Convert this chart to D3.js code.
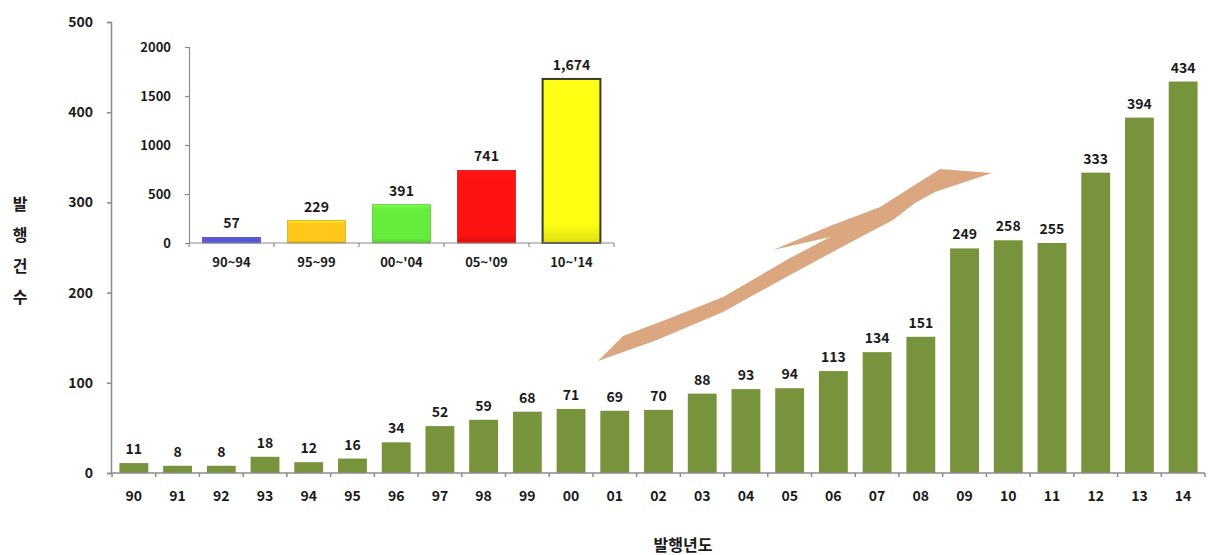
<!DOCTYPE html>
<html>
<head>
<meta charset="utf-8">
<script src="https://cdn.jsdelivr.net/npm/d3@7"></script>
<style>
  html, body { margin: 0; padding: 0; background: #fff; }
  svg { display: block; }
  text { font-family: "Noto Sans CJK KR", "Noto Sans", sans-serif; font-weight: bold; fill: #1a1a1a; }
</style>
</head>
<body>
<svg id="chart" width="1208" height="555"></svg>
<script>
// Yearly publication counts
const years = ["90","91","92","93","94","95","96","97","98","99","00","01","02","03","04","05","06","07","08","09","10","11","12","13","14"];
const yearCounts = [11,8,8,18,12,16,34,52,59,68,71,69,70,88,93,94,113,134,151,249,258,255,333,394,434];
const yearTicks = [0,100,200,300,400,500];

// Five-year totals (inset)
const periods = ["90~94","95~99","00~'04","05~'09","10~'14"];
const periodCounts = [57,229,391,741,1674];
const periodLabels = ["57","229","391","741","1,674"];
const periodColors = ["#5858d8","#ffc81a","#66ec3c","#ff1212","#ffff14"];
const periodTicks = [0,500,1000,1500,2000];

// Trend arrow outline, in chart coordinates
const arrowShape = [
  [598,361],[623,336],[673,317],[723,297],[790,258],[830,237],[773,250],[830,226],
  [880,207],[940,169],[992,173],[935,192],[915,203],[893,220],[855,240],[790,275],
  [723,312],[657,340]
];

const svg = d3.select("#chart");
const axisColor = "#8c8c8c";

// ---------- main chart ----------
const x = d3.scaleBand().domain(years).range([112, 1205]).paddingInner(0.34).paddingOuter(0.17);
const y = d3.scaleLinear().domain([0, 500]).range([473, 22]);

const main = svg.append("g");

// trend arrow behind the bars
svg.append("path")
  .attr("d", d3.line()(arrowShape) + "Z")
  .attr("fill", "#dba781");

main.selectAll("rect.bar").data(years).join("rect")
  .attr("class", "bar")
  .attr("x", d => x(d))
  .attr("width", x.bandwidth())
  .attr("y", (d, i) => y(yearCounts[i]))
  .attr("height", (d, i) => y(0) - y(yearCounts[i]))
  .attr("fill", "#77933c");

main.selectAll("text.val").data(years).join("text")
  .attr("class", "val")
  .attr("x", d => x(d) + x.bandwidth() / 2)
  .attr("y", (d, i) => y(yearCounts[i]) - 9)
  .attr("text-anchor", "middle")
  .attr("font-size", 14)
  .text((d, i) => yearCounts[i]);

// y axis
const yAxis = main.append("g").attr("transform", "translate(111,0)")
  .call(d3.axisLeft(y).tickValues(yearTicks).tickFormat(d3.format("d")).tickSize(4).tickPadding(14));
yAxis.selectAll("text").attr("font-size", 14);

// x axis with ticks between categories
const xAxisG = main.append("g").attr("transform", "translate(0,473)");
xAxisG.append("line").attr("x1", 111).attr("x2", 1205).attr("y1", 0).attr("y2", 0);
const step = x.step();
xAxisG.selectAll("line.tk").data(d3.range(years.length + 1)).join("line")
  .attr("class", "tk")
  .attr("x1", i => 112 + i * step).attr("x2", i => 112 + i * step)
  .attr("y1", 0).attr("y2", 4);
xAxisG.selectAll("text").data(years).join("text")
  .attr("x", d => x(d) + x.bandwidth() / 2)
  .attr("y", 28)
  .attr("text-anchor", "middle")
  .attr("font-size", 14)
  .text(d => d);

[yAxis, xAxisG].forEach(g => {
  g.selectAll("line, path.domain").attr("stroke", axisColor).attr("stroke-width", 1.5);
});

// axis titles
svg.append("text").attr("x", 683).attr("y", 551).attr("text-anchor", "middle")
  .attr("font-size", 16).text("발행년도");
const yTitle = "발행건수".split("");
svg.selectAll("text.ytitle").data(yTitle).join("text")
  .attr("class", "ytitle")
  .attr("x", 20).attr("y", (d, i) => 210 + i * 31)
  .attr("text-anchor", "middle").attr("font-size", 16)
  .text(d => d);

// ---------- inset chart ----------
const xi = d3.scaleBand().domain(periods).range([189, 614]).paddingInner(0.32).paddingOuter(0.16);
const yi = d3.scaleLinear().domain([0, 2000]).range([243, 47]);

const defs = svg.append("defs");
periodColors.forEach((c, i) => {
  const g = defs.append("linearGradient").attr("id", "pg" + i)
    .attr("x1", 0).attr("y1", 0).attr("x2", 0).attr("y2", 1);
  g.append("stop").attr("offset", 0).attr("stop-color", d3.color(c).brighter(0.6));
  g.append("stop").attr("offset", 0.12).attr("stop-color", c);
  g.append("stop").attr("offset", 0.88).attr("stop-color", c);
  g.append("stop").attr("offset", 1).attr("stop-color", d3.color(c).darker(0.4));
});

const inset = svg.append("g");
inset.selectAll("rect").data(periods).join("rect")
  .attr("x", d => xi(d))
  .attr("width", xi.bandwidth())
  .attr("y", (d, i) => yi(periodCounts[i]))
  .attr("height", (d, i) => yi(0) - yi(periodCounts[i]))
  .attr("fill", (d, i) => `url(#pg${i})`)
  .attr("stroke", (d, i) => i === 4 ? "#3a3a2a" : d3.color(periodColors[i]).darker(0.5))
  .attr("stroke-width", (d, i) => i === 4 ? 2 : 0.8);

inset.selectAll("text.val").data(periods).join("text")
  .attr("class", "val")
  .attr("x", d => xi(d) + xi.bandwidth() / 2)
  .attr("y", (d, i) => yi(periodCounts[i]) - 9)
  .attr("text-anchor", "middle")
  .attr("font-size", 14)
  .text((d, i) => periodLabels[i]);

const yiAxis = inset.append("g").attr("transform", "translate(189,0)")
  .call(d3.axisLeft(yi).tickValues(periodTicks).tickFormat(d3.format("d")).tickSize(4).tickPadding(14));
yiAxis.selectAll("text").attr("font-size", 13);

const xiAxis = inset.append("g").attr("transform", "translate(0,243)");
xiAxis.append("line").attr("x1", 189).attr("x2", 614).attr("y1", 0).attr("y2", 0);
const stepI = xi.step();
xiAxis.selectAll("line.tk").data(d3.range(periods.length + 1)).join("line")
  .attr("class", "tk")
  .attr("x1", i => 189 + i * stepI).attr("x2", i => 189 + i * stepI)
  .attr("y1", 0).attr("y2", 4);
xiAxis.selectAll("text").data(periods).join("text")
  .attr("x", d => xi(d) + xi.bandwidth() / 2)
  .attr("y", 24)
  .attr("text-anchor", "middle")
  .attr("font-size", 13)
  .text(d => d);

[yiAxis, xiAxis].forEach(g => {
  g.selectAll("line, path.domain").attr("stroke", axisColor).attr("stroke-width", 1.2);
});
</script>
</body>
</html>
